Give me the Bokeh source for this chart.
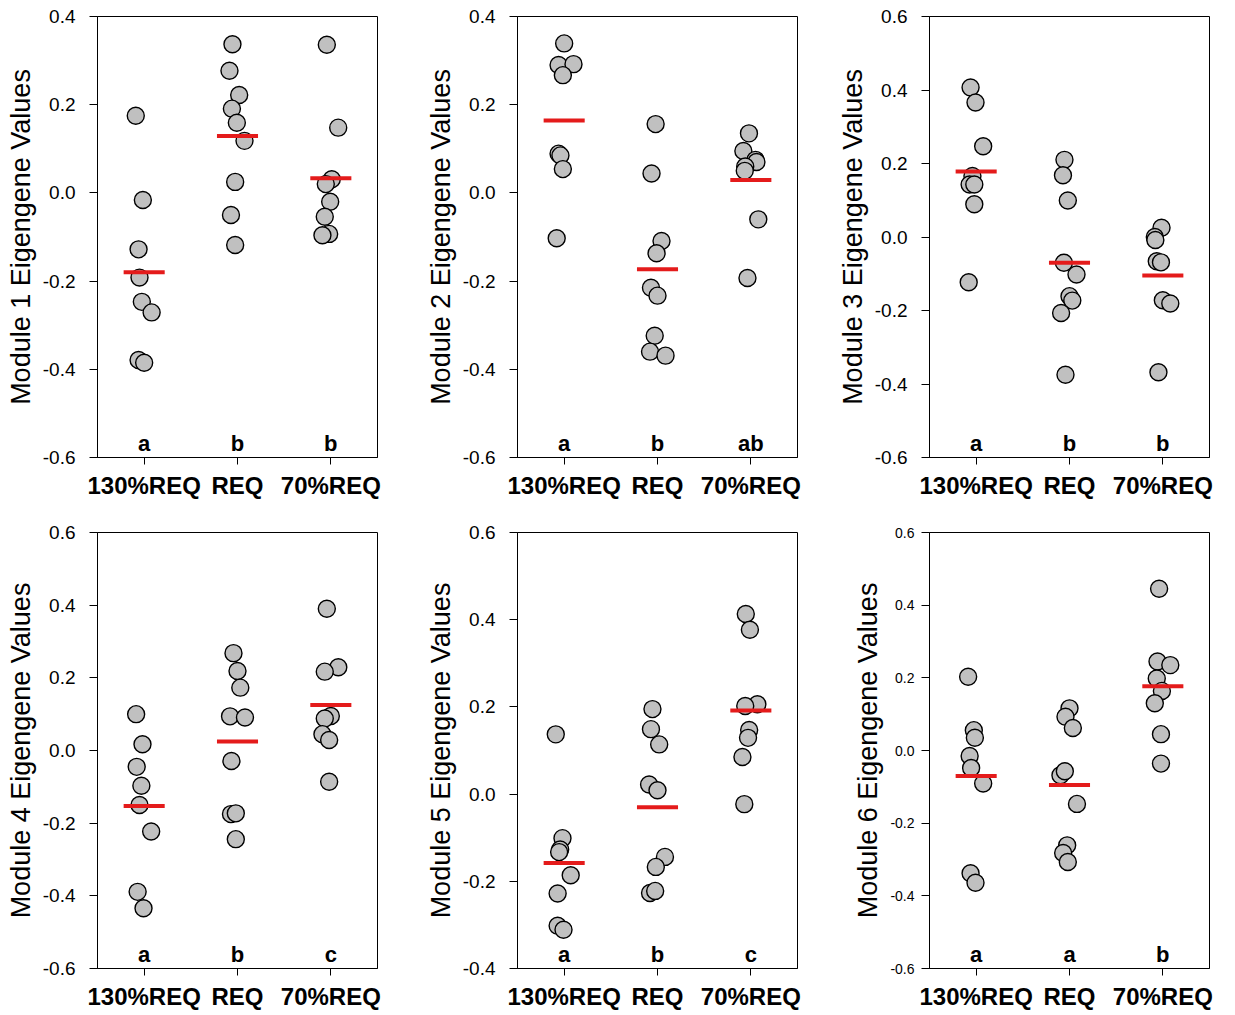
from bokeh.plotting import figure
from bokeh.layouts import column, row
from bokeh.models import FixedTicker, Range1d, PrintfTickFormatter
from bokeh.core.properties import value
from bokeh.embed import file_html
from bokeh.resources import INLINE

groups = ["130%REQ", "REQ", "70%REQ"]
cat_pos = [1, 2, 3]

# ---- Module 1 ----
m1_g1 = [0.175, -0.016, -0.128, -0.192, -0.247, -0.271, -0.379, -0.385]
m1_j1 = [-0.09, -0.014, -0.06, -0.05, -0.025, 0.08, -0.06, 0.0]
m1_g2 = [0.337, 0.277, 0.222, 0.191, 0.159, 0.118, 0.025, -0.050, -0.118]
m1_j2 = [-0.054, -0.086, 0.018, -0.06, -0.007, 0.075, -0.025, -0.07, -0.025]
m1_g3 = [0.336, 0.148, 0.031, 0.020, -0.020, -0.054, -0.093, -0.096]
m1_j3 = [-0.043, 0.079, 0.01, -0.054, -0.007, -0.065, -0.018, -0.09]
m1_means = [-0.180, 0.129, 0.033]
m1_letters = ["a", "b", "b"]

# ---- Module 2 ----
m2_g1 = [0.339, 0.290, 0.292, 0.267, 0.089, 0.085, 0.054, -0.103]
m2_j1 = [0.0, -0.06, 0.1, -0.014, -0.06, -0.04, -0.014, -0.08]
m2_g2 = [0.156, 0.044, -0.109, -0.137, -0.215, -0.233, -0.324, -0.360, -0.369]
m2_j2 = [-0.02, -0.064, 0.043, -0.01, -0.07, 0.0, -0.03, -0.08, 0.086]
m2_g3 = [0.135, 0.095, 0.075, 0.070, 0.060, 0.050, -0.060, -0.193]
m2_j3 = [-0.02, -0.08, 0.05, 0.06, -0.06, -0.065, 0.08, -0.036]
m2_means = [0.164, -0.173, 0.029]
m2_letters = ["a", "b", "ab"]

# ---- Module 3 ----
m3_g1 = [0.407, 0.366, 0.247, 0.166, 0.143, 0.143, 0.089, -0.123]
m3_j1 = [-0.06, -0.007, 0.075, -0.04, -0.07, -0.02, -0.02, -0.08]
m3_g2 = [0.210, 0.168, 0.0995, -0.070, -0.102, -0.161, -0.173, -0.207, -0.375]
m3_j2 = [-0.054, -0.07, -0.018, -0.06, 0.075, 0.0, 0.03, -0.09, -0.043]
m3_g3 = [0.025, 0.0, -0.008, -0.066, -0.069, -0.172, -0.181, -0.368]
m3_j3 = [-0.014, -0.086, -0.08, -0.065, -0.02, 0.0, 0.08, -0.047]
m3_means = [0.178, -0.070, -0.105]
m3_letters = ["a", "b", "b"]

# ---- Module 4 ----
m4_g1 = [0.100, 0.017, -0.045, -0.097, -0.150, -0.223, -0.389, -0.434]
m4_j1 = [-0.086, -0.018, -0.08, -0.03, -0.05, 0.075, -0.07, -0.007]
m4_g2 = [0.268, 0.219, 0.173, 0.094, 0.091, -0.029, -0.175, -0.173, -0.244]
m4_j2 = [-0.043, 0.0, 0.03, -0.08, 0.08, -0.065, -0.07, -0.018, -0.018]
m4_g3 = [0.390, 0.229, 0.217, 0.095, 0.088, 0.045, 0.029, -0.086]
m4_j3 = [-0.043, 0.08, -0.065, 0.0, -0.065, -0.09, -0.018, -0.018]
m4_means = [-0.153, 0.025, 0.125]
m4_letters = ["a", "b", "c"]

# ---- Module 5 ----
m5_g1 = [0.137, -0.101, -0.127, -0.133, -0.186, -0.228, -0.302, -0.311]
m5_j1 = [-0.09, -0.018, -0.043, -0.054, 0.07, -0.07, -0.07, -0.007]
m5_g2 = [0.195, 0.149, 0.114, 0.022, 0.009, -0.144, -0.167, -0.227, -0.222]
m5_j2 = [-0.054, -0.07, 0.018, -0.09, 0.0, 0.08, -0.018, -0.08, -0.025]
m5_g3 = [0.413, 0.377, 0.206, 0.202, 0.147, 0.129, 0.085, -0.023]
m5_j3 = [-0.054, -0.01, 0.07, -0.06, -0.018, -0.03, -0.09, -0.07]
m5_means = [-0.158, -0.030, 0.192]
m5_letters = ["a", "b", "c"]

# ---- Module 6 ----
m6_g1 = [0.203, 0.056, 0.035, -0.015, -0.048, -0.091, -0.338, -0.364]
m6_j1 = [-0.086, -0.025, -0.014, -0.07, -0.054, 0.075, -0.06, -0.007]
m6_g2 = [0.116, 0.093, 0.062, -0.068, -0.057, -0.147, -0.261, -0.282, -0.307]
m6_j2 = [0.0, -0.043, 0.036, -0.097, -0.05, 0.08, -0.025, -0.068, -0.018]
m6_g3 = [0.445, 0.245, 0.235, 0.198, 0.164, 0.130, 0.045, -0.036]
m6_j3 = [-0.04, -0.057, 0.08, -0.065, -0.01, -0.086, -0.02, -0.02]
m6_means = [-0.070, -0.095, 0.177]
m6_letters = ["a", "a", "b"]

ticks_a = [-0.6, -0.4, -0.2, 0.0, 0.2, 0.4]
ticks_b = [-0.6, -0.4, -0.2, 0.0, 0.2, 0.4, 0.6]
ticks_c = [-0.4, -0.2, 0.0, 0.2, 0.4, 0.6]

FONT = value("Liberation Sans")
POINT_FILL = "#c0c0c0"
RED = "#e41b1b"


def panel(num, g1, j1, g2, j2, g3, j3, means, letters, ylo, yhi, yticks,
          tick_size, tick_standoff, bl, br, bt, bb, fh):
    p = figure(x_range=Range1d(0.5, 3.5), y_range=Range1d(ylo, yhi),
               width=bl + 280 + br, height=bt + fh + bb,
               min_border_left=bl, min_border_right=br,
               min_border_top=bt, min_border_bottom=bb,
               output_backend="svg", toolbar_location=None)
    p.xgrid.visible = False
    p.ygrid.visible = False
    p.outline_line_color = "black"
    p.outline_line_width = 1
    p.outline_line_alpha = 1
    p.background_fill_color = "white"
    p.border_fill_color = "white"

    xs = ([cat_pos[0] + j for j in j1] + [cat_pos[1] + j for j in j2]
          + [cat_pos[2] + j for j in j3])
    ys = list(g1) + list(g2) + list(g3)
    p.scatter(xs, ys, size=17, fill_color=POINT_FILL, line_color="black",
              line_width=1.4)
    p.segment(x0=[c - 0.22 for c in cat_pos], x1=[c + 0.22 for c in cat_pos],
              y0=means, y1=means, line_color=RED, line_width=4)
    p.text(x=cat_pos, y=[ylo] * 3, text=letters, text_font=FONT,
           text_font_style="bold", text_font_size="22px", text_align="center",
           text_baseline="middle", y_offset=-14, text_color="black")

    xa = p.xaxis[0]
    xa.ticker = FixedTicker(ticks=cat_pos)
    xa.major_label_overrides = {c: g for c, g in zip(cat_pos, groups)}
    xa.major_label_text_font = "Liberation Sans"
    xa.major_label_text_font_style = "bold"
    xa.major_label_text_font_size = "24px"
    xa.major_label_text_color = "black"
    xa.major_label_standoff = 7
    xa.major_tick_in = 0
    xa.major_tick_out = 7
    xa.minor_tick_line_color = None
    xa.axis_line_color = "black"
    xa.major_tick_line_color = "black"

    ya = p.yaxis[0]
    ya.ticker = FixedTicker(ticks=yticks)
    ya.formatter = PrintfTickFormatter(format="%.1f")
    ya.major_label_text_font = "Liberation Sans"
    ya.major_label_text_font_size = tick_size
    ya.major_label_text_color = "black"
    ya.major_label_standoff = tick_standoff
    ya.major_tick_in = 0
    ya.major_tick_out = 8
    ya.minor_tick_line_color = None
    ya.axis_line_color = "black"
    ya.major_tick_line_color = "black"
    ya.axis_label = f"Module {num} Eigengene Values"
    ya.axis_label_text_font = "Liberation Sans"
    ya.axis_label_text_font_style = "normal"
    ya.axis_label_text_font_size = "27px"
    ya.axis_label_text_color = "black"
    ya.axis_label_standoff = 4
    return p


p1 = panel(1, m1_g1, m1_j1, m1_g2, m1_j2, m1_g3, m1_j3, m1_means, m1_letters,
           -0.6, 0.4, ticks_a, "19px", 14, 97, 44, 16, 48, 441)
p2 = panel(2, m2_g1, m2_j1, m2_g2, m2_j2, m2_g3, m2_j3, m2_means, m2_letters,
           -0.6, 0.4, ticks_a, "19px", 14, 96, 36, 16, 48, 441)
p3 = panel(3, m3_g1, m3_j1, m3_g2, m3_j2, m3_g3, m3_j3, m3_means, m3_letters,
           -0.6, 0.6, ticks_b, "19px", 14, 96, 14, 16, 48, 441)
p4 = panel(4, m4_g1, m4_j1, m4_g2, m4_j2, m4_g3, m4_j3, m4_means, m4_letters,
           -0.6, 0.6, ticks_b, "19px", 14, 97, 44, 27, 40, 440)
p5 = panel(5, m5_g1, m5_j1, m5_g2, m5_j2, m5_g3, m5_j3, m5_means, m5_letters,
           -0.4, 0.6, ticks_c, "19px", 14, 96, 36, 27, 40, 440)
p6 = panel(6, m6_g1, m6_j1, m6_g2, m6_j2, m6_g3, m6_j3, m6_means, m6_letters,
           -0.6, 0.6, ticks_b, "14px", 7, 96, 14, 27, 40, 440)

layout = column(row(p1, p2, p3), row(p4, p5, p6))
open("out.html", "w").write(file_html(layout, INLINE))
